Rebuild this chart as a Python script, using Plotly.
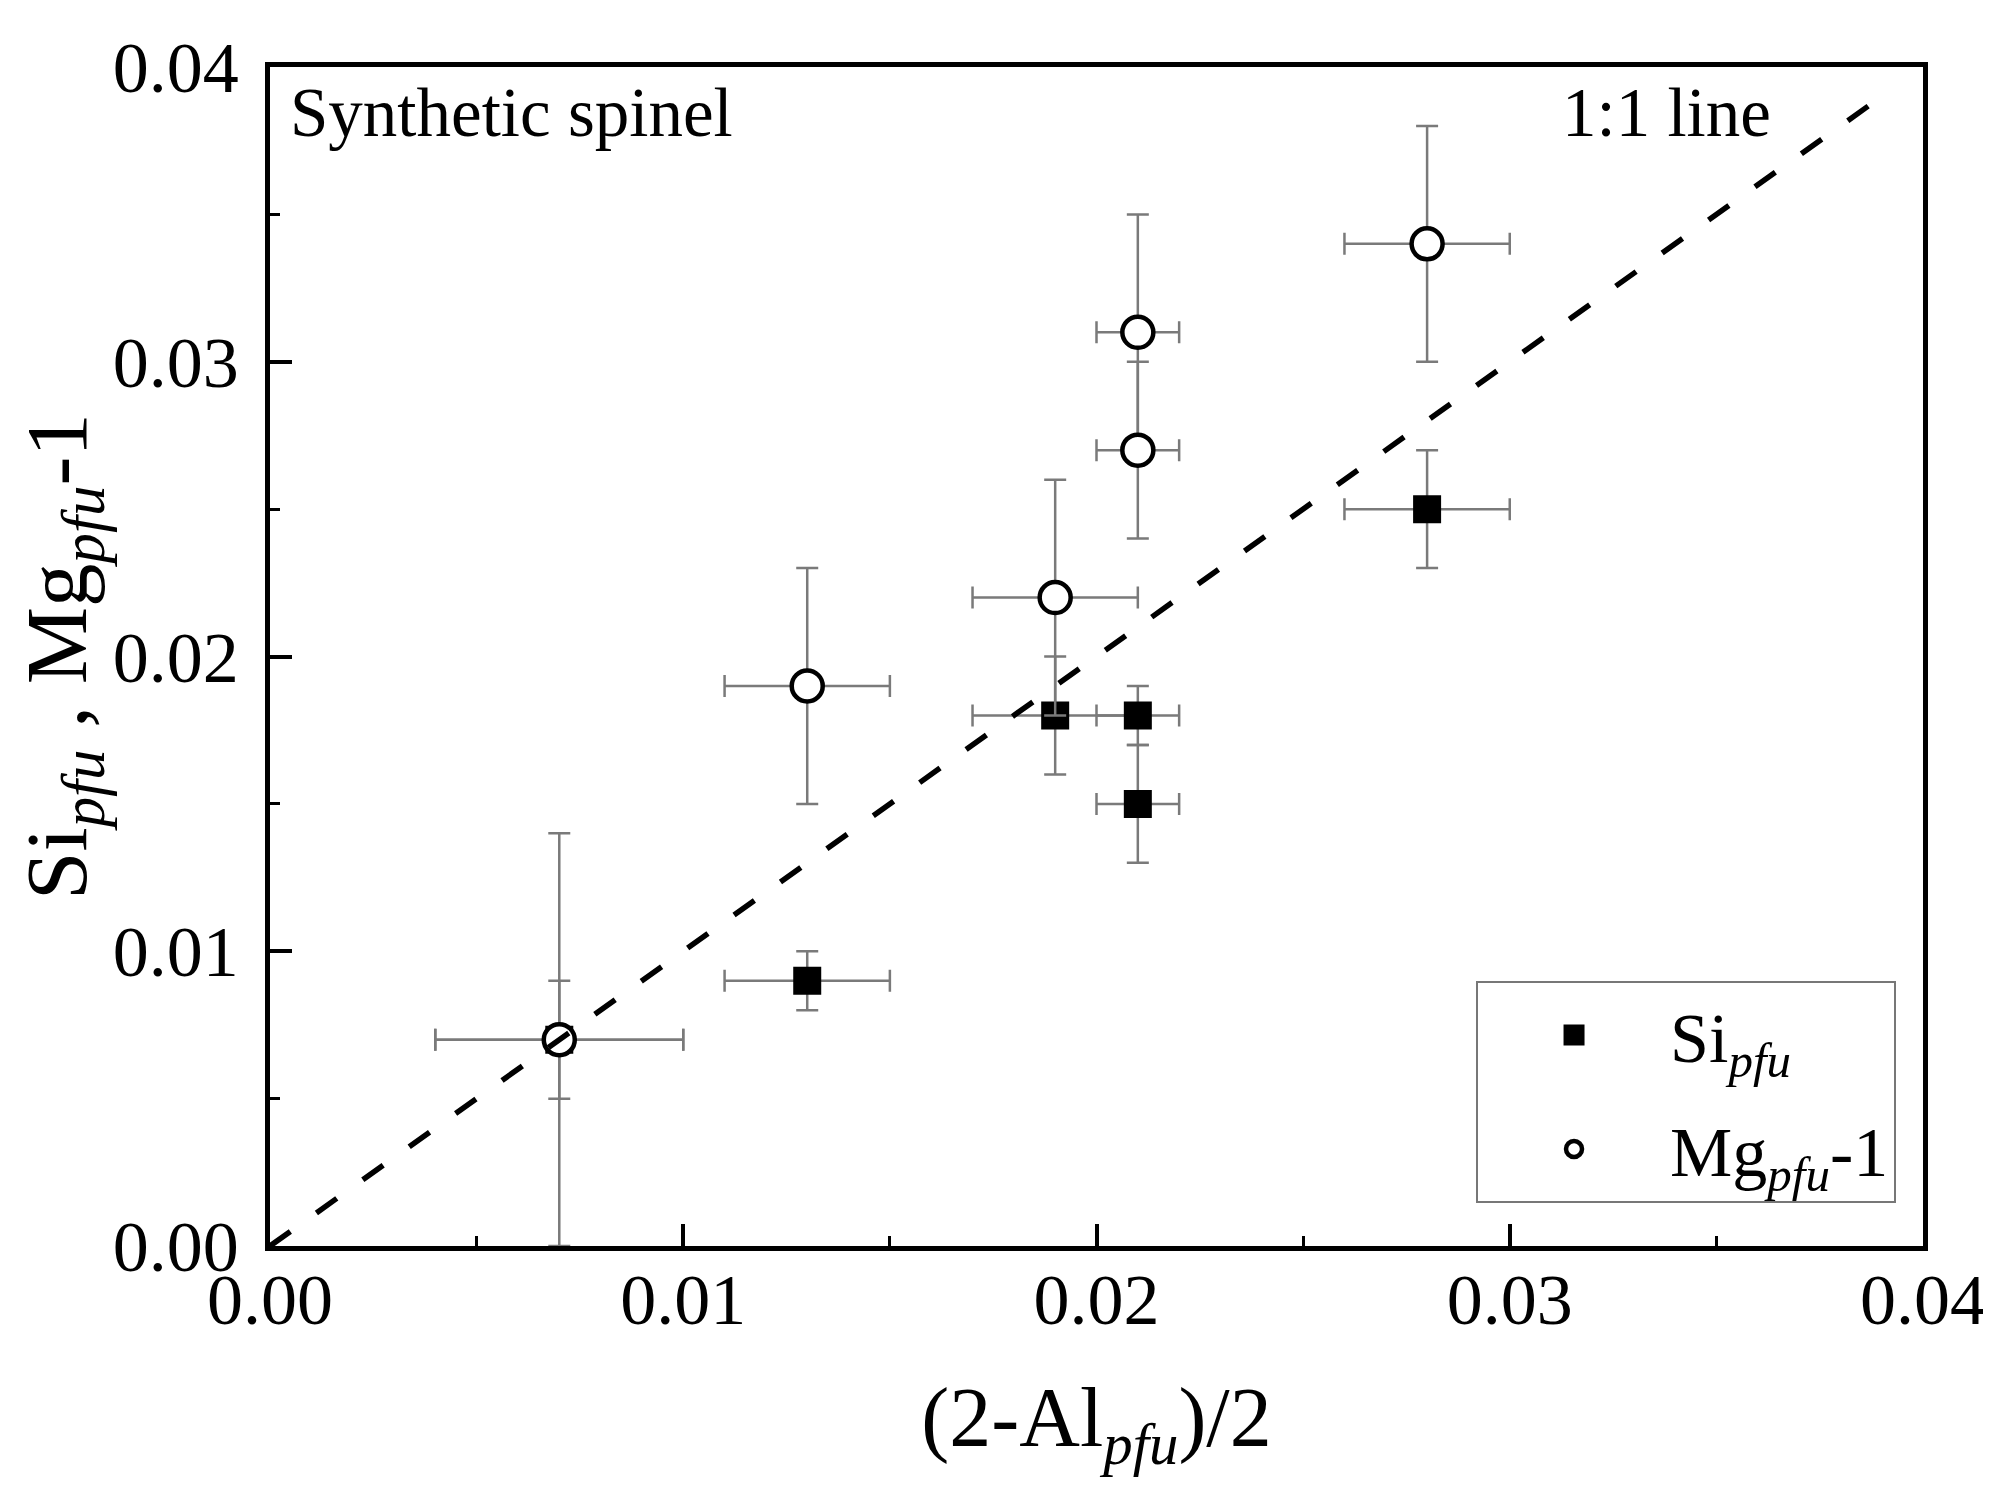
import plotly.graph_objects as go

# Data
si_x = [0.007, 0.013, 0.019, 0.021, 0.021, 0.028]
si_y = [0.007, 0.009, 0.018, 0.018, 0.015, 0.025]
si_xerr = [0.003, 0.002, 0.002, 0.001, 0.001, 0.002]
si_yerr = [0.002, 0.001, 0.002, 0.001, 0.002, 0.002]

mg_x = [0.007, 0.013, 0.019, 0.021, 0.021, 0.028]
mg_y = [0.007, 0.019, 0.022, 0.027, 0.031, 0.034]
mg_xerr = [0.003, 0.002, 0.002, 0.001, 0.001, 0.002]
mg_yerr = [0.007, 0.004, 0.004, 0.003, 0.004, 0.004]

line_x = [0.0, 0.0393]
line_y = [0.0, 0.0393]

tick_vals = [0.00, 0.01, 0.02, 0.03, 0.04]
tick_text = ["0.00", "0.01", "0.02", "0.03", "0.04"]

FONT = "Liberation Serif, Times New Roman, serif"
ERR_COLOR = "#7a7a7a"

fig = go.Figure()

fig.add_trace(go.Scatter(
    x=si_x, y=si_y, mode="markers",
    name="Si<sub><i>pfu</i></sub>", legendgroup="si",
    marker=dict(symbol="square", size=23, color="black",
                line=dict(color="black", width=5)),
    error_x=dict(type="data", array=si_xerr, visible=True,
                 color=ERR_COLOR, thickness=2.5, width=11),
    error_y=dict(type="data", array=si_yerr, visible=True,
                 color=ERR_COLOR, thickness=2.5, width=11),
))

fig.add_trace(go.Scatter(
    x=mg_x, y=mg_y, mode="markers",
    name="Mg<sub><i>pfu</i></sub>-1", legendgroup="mg",
    marker=dict(symbol="circle", size=31, color="white",
                line=dict(color="black", width=4.5)),
    error_x=dict(type="data", array=mg_xerr, visible=True,
                 color=ERR_COLOR, thickness=2.5, width=11),
    error_y=dict(type="data", array=mg_yerr, visible=True,
                 color=ERR_COLOR, thickness=2.5, width=11),
))

fig.add_trace(go.Scatter(
    x=line_x, y=line_y, mode="lines", showlegend=False,
    line=dict(color="black", width=5.5, dash="25px,32px"),
))

axis_common = dict(
    range=[0, 0.04],
    tickvals=tick_vals, ticktext=tick_text,
    ticks="inside", ticklen=22, tickwidth=3.5, tickcolor="black",
    minor=dict(dtick=0.005, ticks="inside", ticklen=10, tickwidth=3, tickcolor="black"),
    showline=True, linecolor="black", linewidth=4.5, mirror=True,
    showgrid=False, zeroline=False,
    tickfont=dict(family=FONT, size=72, color="black"),
)

fig.update_xaxes(
    **axis_common,
    ticklabelstandoff=-13,
    title=dict(text="(2-Al<sub><i>pfu</i></sub>)/2",
               font=dict(family=FONT, size=84, color="black"), standoff=50),
)
fig.update_yaxes(
    **axis_common,
    ticklabelstandoff=12,
    title=dict(text="Si<sub><i>pfu</i></sub> , Mg<sub><i>pfu</i></sub>-1",
               font=dict(family=FONT, size=87, color="black"), standoff=8),
)

fig.add_annotation(text="Synthetic spinel", xref="paper", yref="paper",
                   x=0.011, y=0.961, xanchor="left", yanchor="middle",
                   showarrow=False, font=dict(family=FONT, size=69, color="black"))
fig.add_annotation(text="1:1 line", xref="paper", yref="paper",
                   x=0.909, y=0.961, xanchor="right", yanchor="middle",
                   showarrow=False, font=dict(family=FONT, size=69, color="black"))

fig.update_layout(
    width=1991, height=1494,
    margin=dict(l=262, r=76, t=59, b=256),
    paper_bgcolor="white", plot_bgcolor="white",
    font=dict(family=FONT, color="black"),
    legend=dict(
        x=0.7296, y=0.0365, xanchor="left", yanchor="bottom",
        bgcolor="white", bordercolor="#777777", borderwidth=2,
        font=dict(family=FONT, size=70, color="black"),
        itemwidth=182, traceorder="grouped", tracegroupgap=20,
    ),
)

fig.write_html("out.html")
